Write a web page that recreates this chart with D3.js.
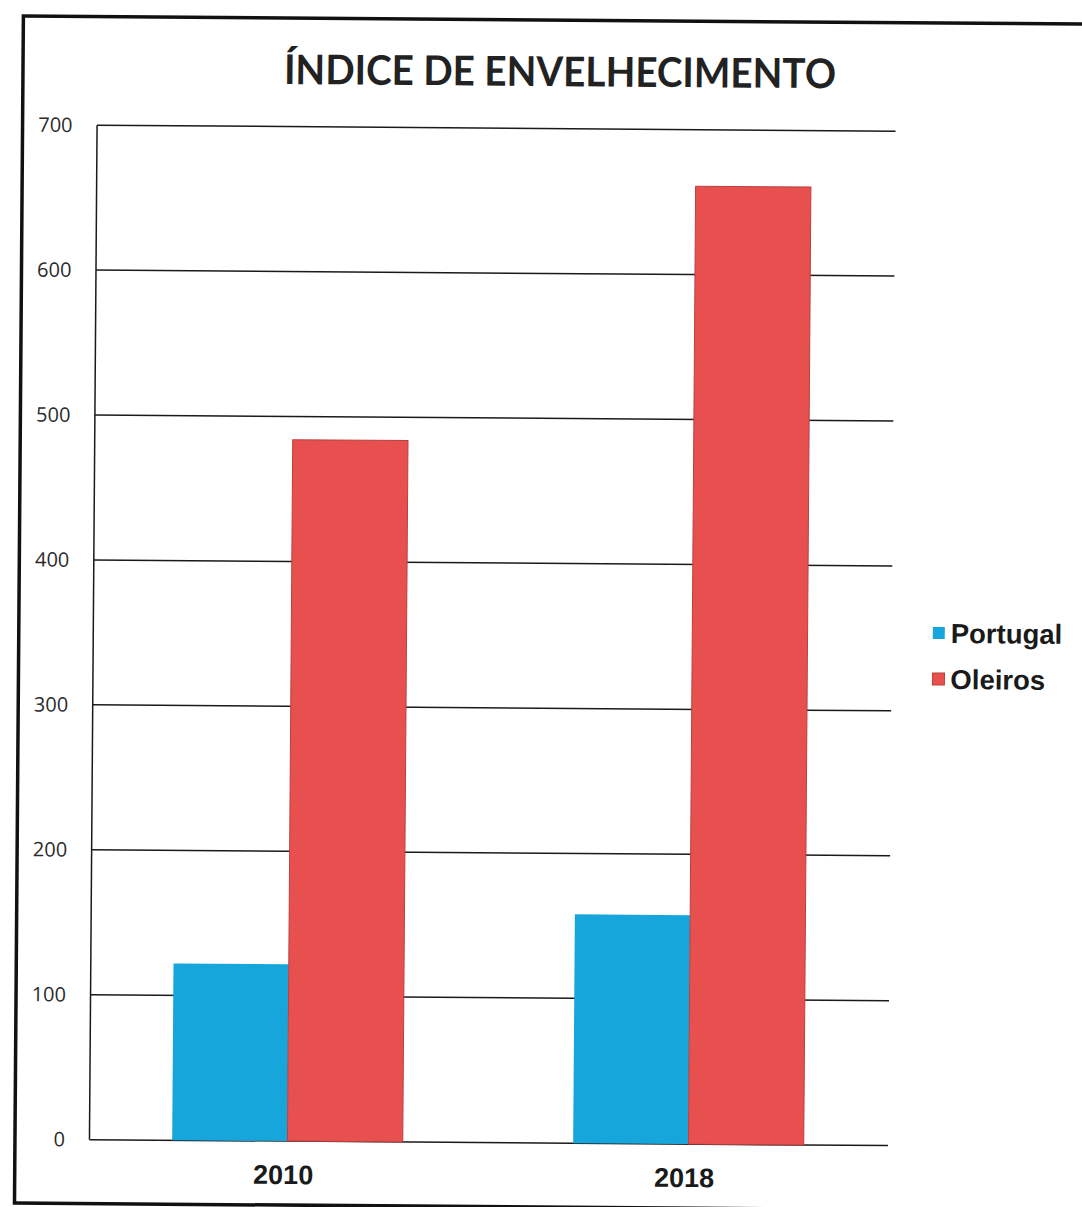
<!DOCTYPE html>
<html><head><meta charset="utf-8">
<script src="https://cdn.jsdelivr.net/npm/d3@7"></script>
<style>html,body{margin:0;padding:0;background:#fff;overflow:hidden}</style>
</head><body>
<script>
const categories = ["2010", "2018"];
const seriesNames = ["Portugal", "Oleiros"];
const portugal = [122, 158];
const oleiros = [484, 661];
const yTicks = [0, 100, 200, 300, 400, 500, 600, 700];
const colors = {"Portugal": "#17a6db", "Oleiros": "#e8504f"};

const W = 1082, H = 1207;
const svg = d3.select("body").append("svg").attr("width", W).attr("height", H);
const g = svg.append("g").attr("transform", "rotate(0.43,541,603)");

// outer frame
g.append("rect").attr("x", 19).attr("y", 20).attr("width", 1100).attr("height", 1187)
  .attr("fill", "none").attr("stroke", "#111").attr("stroke-width", 3.5);

const plotL = 93.5, plotR = 892;
const y = d3.scaleLinear().domain([0, 700]).range([1143, 128.5]);
const x0 = d3.scaleBand().domain(categories).range([91, 893]).padding(0);
const barW = x0.bandwidth() * 0.2875;
const x1 = d3.scaleBand().domain(seriesNames).range([0, barW * 2]).padding(0);

// title
g.append("text").attr("x", 556).attr("y", 86).attr("text-anchor", "middle")
  .attr("font-family", "Lato, 'Open Sans', sans-serif").attr("font-weight", 700)
  .attr("font-size", 41).attr("fill", "#222")
  .attr("textLength", 552).attr("lengthAdjust", "spacingAndGlyphs")
  .text("ÍNDICE DE ENVELHECIMENTO");

// gridlines
g.append("g").selectAll("line").data(yTicks).join("line")
  .attr("x1", plotL).attr("x2", plotR)
  .attr("y1", d => y(d)).attr("y2", d => y(d))
  .attr("stroke", "#1a1a1a").attr("stroke-width", 1.5);

// y axis line
g.append("line").attr("x1", plotL).attr("x2", plotL).attr("y1", y(700)).attr("y2", y(0))
  .attr("stroke", "#1a1a1a").attr("stroke-width", 1.5);

// y tick labels
g.append("g").selectAll("text").data(yTicks).join("text")
  .attr("x", 69).attr("y", d => y(d) + 7).attr("text-anchor", "end")
  .attr("font-family", "'Open Sans', Lato, sans-serif").attr("font-size", 20).attr("fill", "#2a2a2a")
  .text(d => d);

// bars
const data = categories.map((c, i) => ({cat: c, vals: [
  {name: "Portugal", v: portugal[i]}, {name: "Oleiros", v: oleiros[i]}]}));
const groups = g.append("g").selectAll("g").data(data).join("g")
  .attr("transform", d => `translate(${x0(d.cat) + (x0.bandwidth() - barW * 2) / 2},0)`);
groups.selectAll("rect").data(d => d.vals).join("rect")
  .attr("x", d => x1(d.name)).attr("width", x1.bandwidth())
  .attr("y", d => y(d.v)).attr("height", d => y(0) - y(d.v))
  .attr("fill", d => colors[d.name])
  .attr("stroke", d => d.name === "Oleiros" ? "#b8403f" : "none").attr("stroke-width", 1);

// x labels
g.append("g").selectAll("text").data(categories).join("text")
  .attr("x", d => x0(d) + x0.bandwidth() / 2 - 4).attr("y", 1186).attr("text-anchor", "middle")
  .attr("font-family", "'Liberation Sans', Arial, sans-serif").attr("font-weight", 700)
  .attr("font-size", 27).attr("fill", "#1a1a1a").text(d => d);

// legend
const leg = g.append("g").selectAll("g").data(seriesNames).join("g")
  .attr("transform", (d, i) => `translate(933,${630 + i * 46})`);
leg.append("rect").attr("x", 0).attr("y", -6).attr("width", 12).attr("height", 12)
  .attr("fill", d => colors[d]).attr("stroke", d => d === "Oleiros" ? "#b8403f" : "none");
leg.append("text").attr("x", 18).attr("y", 10)
  .attr("font-family", "'Liberation Sans', Arial, sans-serif").attr("font-weight", 700)
  .attr("font-size", 27.5).attr("fill", "#1a1a1a").text(d => d);
</script>
</body></html>
